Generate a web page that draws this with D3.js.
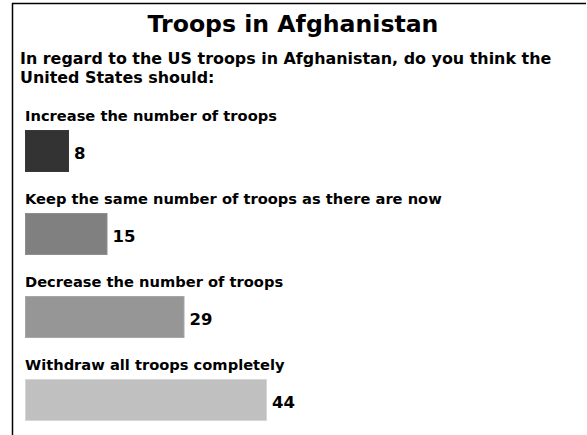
<!DOCTYPE html>
<html><head><meta charset="utf-8">
<script src="https://cdn.jsdelivr.net/npm/d3@7"></script>
<style>body{margin:0;background:#fff}svg{display:block}text{font-family:"DejaVu Sans",sans-serif;fill:#000}</style>
</head><body>
<script>
const categories = ["Increase the number of troops","Keep the same number of troops as there are now","Decrease the number of troops","Withdraw all troops completely"];
const values = [8, 15, 29, 44];
const colors = ["#333333","#808080","#969696","#c0c0c0"];
const title = "Troops in Afghanistan";
const subtitle = ["In regard to the US troops in Afghanistan, do you think the","United States should:"];

const W = 587, H = 435;
const svg = d3.select("body").append("svg").attr("width", W).attr("height", H);
svg.append("rect").attr("width", W).attr("height", H).attr("fill", "#fff");
svg.append("line").attr("x1",12.5).attr("x2",12.5).attr("y1",3).attr("y2",H).attr("stroke","#000").attr("stroke-width",1.5);
svg.append("line").attr("x1",12).attr("x2",586).attr("y1",3.5).attr("y2",3.5).attr("stroke","#000").attr("stroke-width",1.5);

// fit a font size so the first text of a group spans a target width
function fit(sel, target){
  const n = sel.node();
  const fs = +sel.attr("font-size");
  const w = n.getComputedTextLength();
  return fs * target / w;
}

const t = svg.append("text").attr("x",293).attr("y",32).attr("text-anchor","middle")
  .attr("font-size",20).attr("font-weight",700).text(title);
t.attr("font-size", fit(t, 291));

const subs = svg.selectAll("text.sub").data(subtitle).join("text").attr("class","sub")
  .attr("x",20).attr("y",(d,i)=>64+i*19).attr("font-size",15).attr("font-weight",700).text(d=>d);
const sfs = fit(d3.select(subs.nodes()[0]), 532);
subs.attr("font-size", sfs);

const x = d3.scaleLinear().domain([0, 8]).range([0, 44]);
const y = d3.scaleBand().domain(categories).range([88, 420]).paddingInner(0).paddingOuter(0);
const g = svg.append("g").attr("transform","translate(25,0)");
const rows = g.selectAll("g.row").data(categories).join("g").attr("class","row")
  .attr("transform", d => `translate(0,${y(d)})`);
const labels = rows.append("text").attr("x",0).attr("y",33).attr("font-size",14).attr("font-weight",700).text(d=>d);
const lfs = fit(d3.select(labels.nodes()[0]), 252);
labels.attr("font-size", lfs);
rows.append("rect").attr("x",0.5).attr("y",42.5).attr("height",41)
  .attr("width",(d,i)=>x(values[i])-1).attr("fill",(d,i)=>colors[i])
  .attr("stroke",(d,i)=>d3.color(colors[i]).brighter(0.3)).attr("stroke-width",1);
rows.append("text").attr("x",(d,i)=>x(values[i])+5).attr("y",71).attr("font-size",16.5).attr("font-weight",700)
  .text((d,i)=>values[i]);
</script>
</body></html>
